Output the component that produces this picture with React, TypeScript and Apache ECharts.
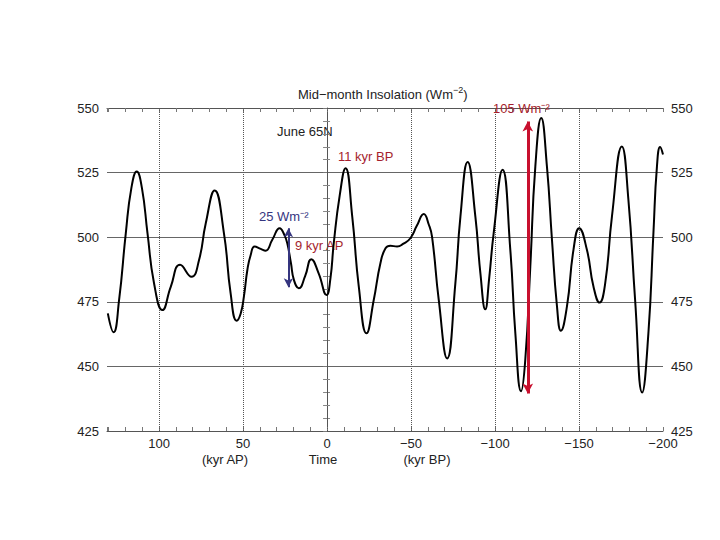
import React, { useEffect, useRef } from "react";
import * as echarts from "echarts";

// Time in kyr (positive = after present, negative = before present)
const TIME_KYR = [
  130.5, 127.1, 123.8, 119.8, 116.5, 113.3, 110.2, 106.9, 103.0, 98.0, 93.0, 87.5, 80.7, 76.2,
  72.2, 66.9, 61.4, 57.4, 53.8, 51.4, 49.5, 47.4, 45.5, 43.1, 39.5, 36.6, 32.6,
  28.2, 25.5, 23.7, 21.5, 19.7, 16.8, 13.0, 9.4, 5.0, 0.3, -2.0, -4.0, -7.5,
  -11.0, -15.0, -18.9, -23.5, -27.8, -31.8, -34.8, -37.7, -41.7, -45.5, -49.6,
  -53.5, -57.6, -60.5, -62.5, -66.5, -71.5, -76.4, -79.4, -83.7, -88.3, -91.3,
  -94.2, -96.5, -99.2, -104.5, -109.1, -112.1, -115.5, -118.0, -121.0, -124.0,
  -127.5, -130.9, -133.9, -136.9, -139.2, -142.8, -146.7, -150.1, -154.7,
  -158.6, -162.2, -165.6, -169.6, -175.5, -179.4, -183.4, -187.6, -191.3,
  -194.3, -196.4, -198.3, -200.0,
];

// Mid-month June insolation at 65N (W m-2)
const INSOLATION = [
  470.5, 463.2, 475.7, 501.6, 519.0, 525.4, 519.0, 501.6, 482.2, 471.8, 480.9, 489.3, 484.7,
  491.2, 505.4, 518.1, 501.6, 478.3, 467.7, 470.5, 477.0, 487.5, 493.0, 496.4,
  495.5, 494.8, 499.0, 503.5, 501.0, 497.7, 490.0, 483.4, 480.2, 485.0, 491.5,
  486.0, 477.6, 484.0, 497.7, 516.0, 526.7, 508.0, 480.9, 462.8, 475.7, 490.0,
  495.7, 496.7, 496.4, 497.5, 499.6, 504.5, 509.0, 505.0, 500.2, 475.7, 453.1,
  482.2, 508.0, 529.1, 508.0, 486.0, 472.1, 484.0, 501.6, 526.1, 495.1, 462.8,
  440.4, 452.4, 488.6, 527.4, 546.1, 527.4, 499.0, 473.1, 463.8, 473.1, 495.1,
  503.5, 495.1, 480.9, 474.7, 482.2, 508.0, 535.1, 514.5, 475.7, 439.9, 462.8,
  501.6, 527.4, 534.9, 532.0,
];

const X_MIN = -200;
const X_MAX = 131;
const Y_MIN = 425;
const Y_MAX = 550;
const GRID_TIMES = [100, 50, 0, -50, -100, -150];

const NAVY_ARROW_TIME = 23;
const NAVY_ARROW_RANGE = [480.6, 503.5];
const RED_ARROW_TIME = -119.5;
const RED_ARROW_RANGE = [439.5, 544.8];

const FONT = "'Liberation Sans', Arial, Helvetica, sans-serif";
const TEXT = "#222";
const RED_TEXT = "#a51e2d";
const NAVY = "#35357f";

export default function App() {
  const ref = useRef<HTMLDivElement>(null);

  useEffect(() => {
    document.body.style.margin = "0";
    const chart = echarts.init(ref.current!, null, { renderer: "svg" });

    const lineData = TIME_KYR.map((t, i) => [t, INSOLATION[i]]);

    const xFmt = (v: number) =>
      Math.abs(v % 50) < 1e-9 ? String(v).replace("-", "\u2212") : "";

    const xAxisBase = {
      type: "value",
      min: X_MIN,
      max: X_MAX,
      interval: 10,
      inverse: true,
      splitLine: { show: false },
      axisLine: { show: true, lineStyle: { color: "#555", width: 1 } },
      axisTick: { show: true, inside: true, length: 4, lineStyle: { color: "#777" } },
    };

    const option: any = {
      animation: false,
      backgroundColor: "#fff",
      grid: { left: 107, right: 57, top: 108, bottom: 109, containLabel: false },
      xAxis: [
        {
          ...xAxisBase,
          position: "bottom",
          axisLabel: {
            formatter: xFmt,
            fontFamily: FONT,
            fontSize: 13,
            color: TEXT,
            margin: 6,
          },
        },
        {
          ...xAxisBase,
          position: "top",
          axisLabel: { show: false },
        },
      ],
      yAxis: [
        {
          type: "value",
          min: Y_MIN,
          max: Y_MAX,
          interval: 25,
          position: "left",
          axisLine: { show: false },
          axisTick: { show: false, inside: true },
          minorTick: {
            show: true,
            splitNumber: 5,
            length: 3,
            lineStyle: { color: "#888" },
          },
          splitLine: { show: true, lineStyle: { color: "#666", width: 1 } },
          axisLabel: { fontFamily: FONT, fontSize: 13, color: TEXT, margin: 8 },
        },
        {
          type: "value",
          min: Y_MIN,
          max: Y_MAX,
          interval: 25,
          position: "right",
          axisLine: { show: true, lineStyle: { color: "#555", width: 1 } },
          axisTick: { show: true, inside: true, length: 4, lineStyle: { color: "#777" } },
          minorTick: {
            show: true,
            splitNumber: 5,
            length: 4,
            lineStyle: { color: "#888" },
          },
          splitLine: { show: false },
          axisLabel: { fontFamily: FONT, fontSize: 13, color: TEXT, margin: 8 },
        },
      ],
      series: [
        {
          type: "line",
          xAxisIndex: 0,
          yAxisIndex: 0,
          data: lineData,
          smooth: 0.5,
          showSymbol: false,
          symbol: "none",
          lineStyle: { color: "#000", width: 2 },
          z: 3,
          markLine: {
            silent: true,
            symbol: "none",
            label: { show: false },
            lineStyle: { type: "dotted", color: "#555", width: 1 },
            data: GRID_TIMES.map((t) => ({ xAxis: t })),
            z: 1,
          },
        },
        {
          type: "line",
          xAxisIndex: 0,
          yAxisIndex: 0,
          data: [],
          z: 5,
          markLine: {
            silent: true,
            symbol: ["arrow", "arrow"],
            label: { show: false },
            z: 6,
            data: [
              [
                { coord: [NAVY_ARROW_TIME, NAVY_ARROW_RANGE[0]], symbolSize: [7, 9] },
                { coord: [NAVY_ARROW_TIME, NAVY_ARROW_RANGE[1]], symbolSize: [7, 9] },
              ],
              [
                { coord: [RED_ARROW_TIME, RED_ARROW_RANGE[0]], symbolSize: [8, 10] },
                { coord: [RED_ARROW_TIME, RED_ARROW_RANGE[1]], symbolSize: [8, 10] },
              ],
            ].map((pair, i) => {
              const style =
                i === 0
                  ? { color: NAVY, width: 2, type: "solid" }
                  : { color: "#c8102e", width: 3, type: "solid" };
              return [
                { ...pair[0], lineStyle: style, itemStyle: { color: style.color } },
                { ...pair[1], lineStyle: style, itemStyle: { color: style.color } },
              ];
            }),
          },
        },
      ],
      graphic: [
        {
          type: "text",
          x: 298,
          y: 94,
          style: {
            text: "{a|Mid\u2212month Insolation (Wm}{s|\u22122}{a|)}",
            verticalAlign: "middle",
            rich: {
              a: { fontSize: 13, fontFamily: FONT, fill: TEXT, lineHeight: 18 },
              s: { fontSize: 9, fontFamily: FONT, fill: TEXT, verticalAlign: "top", lineHeight: 10 },
            },
          },
        },
        {
          type: "text",
          x: 277,
          y: 131,
          style: { text: "June 65N", fontSize: 13, fontFamily: FONT, fill: TEXT, verticalAlign: "middle" },
        },
        {
          type: "text",
          x: 338,
          y: 156,
          style: { text: "11 kyr BP", fontSize: 13, fontFamily: FONT, fill: RED_TEXT, verticalAlign: "middle" },
        },
        {
          type: "text",
          x: 259,
          y: 216,
          style: { text: "25 Wm\u207B\u00B2", fontSize: 13, fontFamily: FONT, fill: NAVY, verticalAlign: "middle" },
        },
        {
          type: "text",
          x: 295,
          y: 245,
          style: { text: "9 kyr AP", fontSize: 13, fontFamily: FONT, fill: RED_TEXT, verticalAlign: "middle" },
        },
        {
          type: "text",
          x: 493,
          y: 108,
          z: 10,
          style: { text: "105 Wm\u207B\u00B2", fontSize: 13, fontFamily: FONT, fill: RED_TEXT, verticalAlign: "middle" },
        },
        {
          type: "text",
          x: 225,
          y: 459,
          style: { text: "(kyr AP)", fontSize: 13, fontFamily: FONT, fill: TEXT, align: "center", textAlign: "center", verticalAlign: "middle" },
        },
        {
          type: "text",
          x: 323,
          y: 459,
          style: { text: "Time", fontSize: 13, fontFamily: FONT, fill: TEXT, align: "center", textAlign: "center", verticalAlign: "middle" },
        },
        {
          type: "text",
          x: 427,
          y: 459,
          style: { text: "(kyr BP)", fontSize: 13, fontFamily: FONT, fill: TEXT, align: "center", textAlign: "center", verticalAlign: "middle" },
        },
      ],
    };

    chart.setOption(option);
    return () => chart.dispose();
  }, []);

  return <div ref={ref} style={{ width: 720, height: 540, background: "#fff" }} />;
}
